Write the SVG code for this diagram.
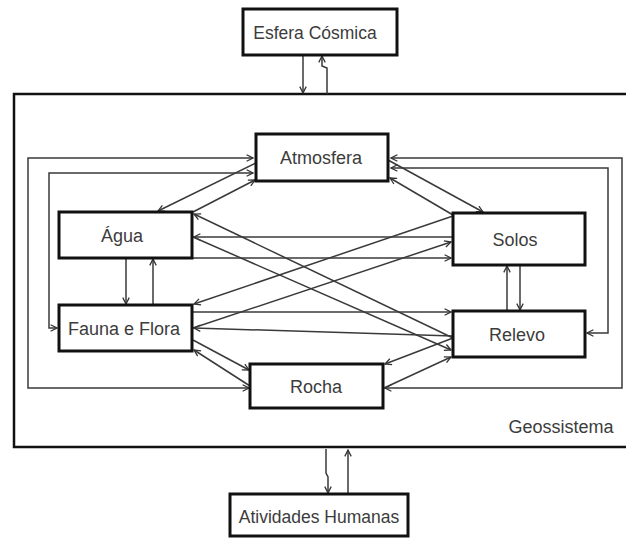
<svg xmlns="http://www.w3.org/2000/svg" width="626" height="539" viewBox="0 0 626 539">
<style>
.box{fill:#fff;stroke:#111;stroke-width:3}
.lbl{font-family:"Liberation Sans",Arial,sans-serif;font-size:18px;fill:#3c3c3c;text-anchor:middle}
.c{fill:none;stroke:#3a3a3a;stroke-width:1.5}
.e{marker-end:url(#ah)}
.b{marker-start:url(#ah);marker-end:url(#ah)}
</style>
<defs>
<marker id="ah" viewBox="0 0 10 10" refX="9" refY="5" markerWidth="8" markerHeight="8" orient="auto-start-reverse" markerUnits="userSpaceOnUse">
<path d="M1,1 L9,5 L1,9" fill="none" stroke="#333" stroke-width="1.6"/>
</marker>
</defs>
<g id="geossistema">
<path d="M628,94 H14 V447 H628" fill="none" stroke="#111" stroke-width="2.5"/>
<text class="lbl" x="561" y="433">Geossistema</text>
</g>
<g id="connectors">
<path class="c e" d="M303,55 V93"/>
<path class="c e" d="M327,94 V68 L322,66 V56"/>
<path class="c e" d="M326,449 V473 L328,477 V493"/>
<path class="c e" d="M348,494 V450"/>
<path class="c b" d="M253,158 H28 V388 H249"/>
<path class="c b" d="M253,173 H49 V328 H57"/>
<path class="c b" d="M391,158 H622 V388 H385"/>
<path class="c b" d="M391,168 H608 V333 H587"/>
<path class="c e" d="M126,258 V304"/>
<path class="c e" d="M153,305 V259"/>
<path class="c e" d="M507,311 V266"/>
<path class="c e" d="M520,265 V310"/>
<path class="c e" d="M256,163 L158,211"/>
<path class="c e" d="M193,212 L255,180"/>
<path class="c e" d="M388,160 L483,212"/>
<path class="c e" d="M453,215 L390,178"/>
<path class="c e" d="M452,237 H194"/>
<path class="c e" d="M192,258 H451"/>
<path class="c e" d="M453,338 L194,214"/>
<path class="c e" d="M193,237 L451,350"/>
<path class="c e" d="M453,216 L194,304"/>
<path class="c e" d="M193,328 L451,242"/>
<path class="c e" d="M192,312 H451"/>
<path class="c e" d="M453,336 L194,328"/>
<path class="c e" d="M193,340 L249,370"/>
<path class="c e" d="M250,386 L194,350"/>
<path class="c e" d="M453,338 L385,364"/>
<path class="c e" d="M384,388 L451,357"/>
</g>
<g id="esfera-cosmica">
<rect class="box" x="243" y="9" width="154" height="46"/>
<text class="lbl" x="315" y="39" style="font-size:17.5px">Esfera Cósmica</text>
</g>
<g id="atmosfera">
<rect class="box" x="256" y="134" width="132" height="47"/>
<text class="lbl" x="321" y="164">Atmosfera</text>
</g>
<g id="agua">
<rect class="box" x="59" y="212" width="133" height="46"/>
<text class="lbl" x="122" y="242">Água</text>
</g>
<g id="fauna-flora">
<rect class="box" x="59" y="305" width="133" height="46"/>
<text class="lbl" x="124" y="335">Fauna e Flora</text>
</g>
<g id="solos">
<rect class="box" x="453" y="213" width="132" height="52"/>
<text class="lbl" x="515" y="246">Solos</text>
</g>
<g id="relevo">
<rect class="box" x="453" y="311" width="132" height="46"/>
<text class="lbl" x="517" y="341">Relevo</text>
</g>
<g id="rocha">
<rect class="box" x="250" y="364" width="133" height="44"/>
<text class="lbl" x="316" y="393">Rocha</text>
</g>
<g id="atividades-humanas">
<rect class="box" x="230" y="494" width="178" height="42"/>
<text class="lbl" x="319" y="523" style="font-size:17.5px">Atividades Humanas</text>
</g>
</svg>
